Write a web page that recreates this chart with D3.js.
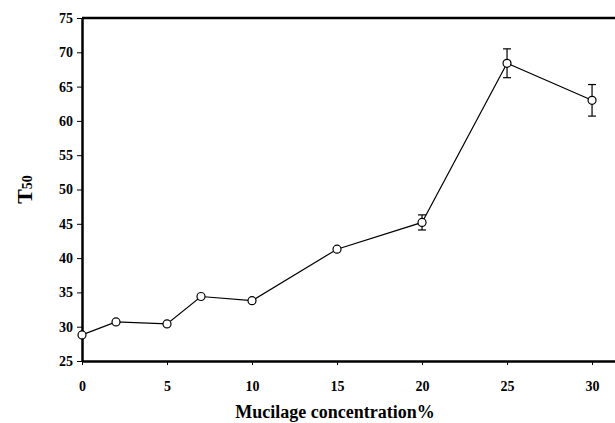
<!DOCTYPE html>
<html><head><meta charset="utf-8">
<script src="https://cdn.jsdelivr.net/npm/d3@7"></script>
<style>body{margin:0;background:#fff}svg text{font-family:"Times New Roman","Liberation Serif","DejaVu Serif",serif !important;font-weight:bold}</style>
</head><body><div id="chart"></div>
<script>
const concentrations = [0, 2, 5, 7, 10, 15, 20, 25, 30];
const t50 = [28.8, 30.7, 30.4, 34.4, 33.8, 41.3, 45.2, 68.4, 63.0];
const errors = [0.2, 0.2, 0.2, 0.2, 0.4, 0.3, 1.1, 2.1, 2.3];
const xTicks = [0, 5, 10, 15, 20, 25, 30];
const yTicks = [25, 30, 35, 40, 45, 50, 55, 60, 65, 70, 75];

const W = 615, H = 423;
const m = { top: 18, right: 0, bottom: 62, left: 82 };
const svg = d3.select('#chart').append('svg').attr('width', W).attr('height', H);
const x = d3.scaleLinear().domain([0, 31.35]).range([m.left, W - m.right]);
const y = d3.scaleLinear().domain([25, 75]).range([H - m.bottom, m.top]);

const data = concentrations.map((c, i) => ({ c, v: t50[i], e: errors[i] }));

svg.append('g').attr('transform', `translate(0,${y(25)})`)
  .call(d3.axisBottom(x).tickValues(xTicks).tickSize(4).tickPadding(16).tickSizeOuter(0))
  .call(g => g.select('.domain').attr('stroke-width', 2.5))
  .call(g => g.selectAll('text').attr('font-size', 14));
svg.append('g').attr('transform', `translate(${x(0)},0)`)
  .call(d3.axisLeft(y).tickValues(yTicks).tickSize(5).tickPadding(4).tickSizeOuter(0))
  .call(g => g.select('.domain').attr('stroke-width', 2.5))
  .call(g => g.selectAll('text').attr('font-size', 14));
svg.append('line').attr('x1', x(0)).attr('x2', W).attr('y1', y(75)).attr('y2', y(75))
  .attr('stroke', '#000').attr('stroke-width', 2.5);

const eb = svg.append('g').attr('stroke', '#000').attr('stroke-width', 1.2);
data.filter(d => d.e > 0.5).forEach(d => {
  eb.append('line').attr('x1', x(d.c)).attr('x2', x(d.c)).attr('y1', y(d.v - d.e)).attr('y2', y(d.v + d.e));
  [d.v - d.e, d.v + d.e].forEach(v => eb.append('line').attr('x1', x(d.c) - 4).attr('x2', x(d.c) + 4).attr('y1', y(v)).attr('y2', y(v)));
});

svg.append('path').datum(data)
  .attr('d', d3.line().x(d => x(d.c)).y(d => y(d.v)))
  .attr('fill', 'none').attr('stroke', '#000').attr('stroke-width', 1.2);
svg.selectAll('circle').data(data).join('circle')
  .attr('cx', d => x(d.c)).attr('cy', d => y(d.v)).attr('r', 4)
  .attr('fill', '#fff').attr('stroke', '#000').attr('stroke-width', 1.2);

svg.append('text').attr('x', 335).attr('y', 418).attr('text-anchor', 'middle')
  .attr('font-size', 18).text('Mucilage concentration%');
const yl = svg.append('text').attr('transform', `translate(32,${(y(25) + y(75)) / 2}) rotate(-90)`)
  .attr('text-anchor', 'middle').attr('font-size', 22);
yl.append('tspan').text('T');
yl.append('tspan').attr('font-size', 14).text('50');
</script></body></html>
